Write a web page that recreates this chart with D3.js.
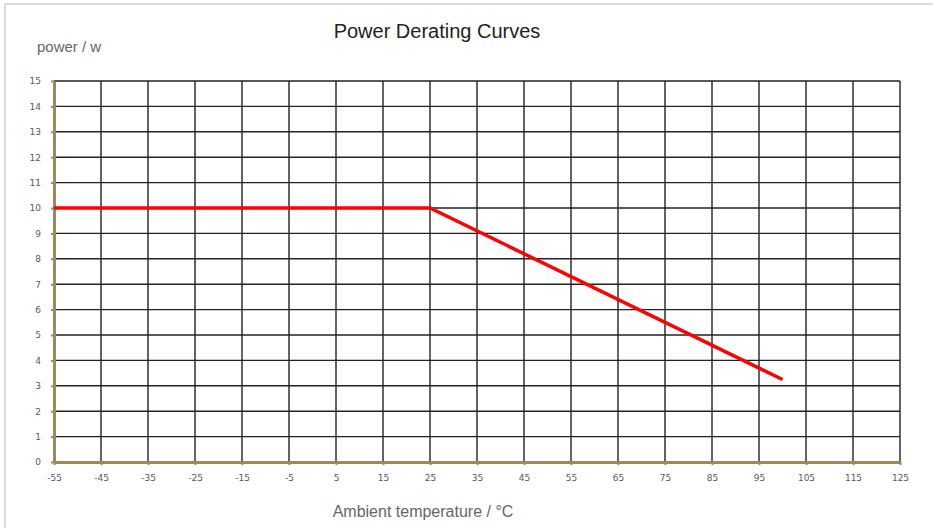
<!DOCTYPE html>
<html>
<head>
<meta charset="utf-8">
<script src="https://cdn.jsdelivr.net/npm/d3@7"></script>
<style>
  body { margin: 0; background: #fff; }
  svg { display: block; }
</style>
</head>
<body>
<div id="graphic"></div>
<script>
// derating curve: temperature (°C) vs power (W)
var temps = [-55, 25, 100];
var power = [10, 10, 3.25];
var xTicks = d3.range(-55, 126, 10);
var yTicks = d3.range(0, 16, 1);

var width = 933, height = 528;
var margin = {left: 54, right: 33, top: 81, bottom: 66};

var svg = d3.select("#graphic").append("svg")
  .attr("width", width).attr("height", height);

// outer frame
svg.append("rect")
  .attr("x", 5).attr("y", 4)
  .attr("width", width + 10).attr("height", height + 10)
  .attr("fill", "#fff").attr("stroke", "#d9d9d9").attr("stroke-width", 2);

var x = d3.scaleLinear().domain([-55, 125]).range([margin.left, width - margin.right]);
var y = d3.scaleLinear().domain([0, 15]).range([height - margin.bottom, margin.top]);

// grid
var grid = svg.append("g").attr("stroke", "#222").attr("stroke-width", 1.4);
grid.selectAll("line.v").data(xTicks.slice(1)).enter().append("line")
  .attr("x1", d => x(d)).attr("x2", d => x(d))
  .attr("y1", y(0)).attr("y2", y(15));
grid.selectAll("line.h").data(yTicks.slice(1)).enter().append("line")
  .attr("x1", x(-55)).attr("x2", x(125))
  .attr("y1", d => y(d)).attr("y2", d => y(d));

var axisColor = "#988c5c";
var fmt = d => String(d);

var xAxis = svg.append("g")
  .attr("transform", "translate(0," + y(0) + ")")
  .call(d3.axisBottom(x).tickValues(xTicks).tickFormat(fmt).tickSize(3).tickPadding(10).tickSizeOuter(0));
var yAxis = svg.append("g")
  .attr("transform", "translate(" + x(-55) + ",0)")
  .call(d3.axisLeft(y).tickValues(yTicks).tickFormat(fmt).tickSize(3).tickPadding(10).tickSizeOuter(0));

[xAxis, yAxis].forEach(function(a) {
  a.select(".domain").attr("stroke", axisColor).attr("stroke-width", 3);
  a.selectAll(".tick line").attr("stroke", axisColor).attr("stroke-width", 2);
  a.selectAll("text")
    .attr("fill", "#595959")
    .style("font-family", "DejaVu Sans, Verdana, sans-serif")
    .style("font-size", "9px");
});

// curve
var line = d3.line().x(d => x(d[0])).y(d => y(d[1]));
svg.append("path")
  .datum(temps.map((t, i) => [t, power[i]]))
  .attr("d", line)
  .attr("fill", "none")
  .attr("stroke", "#ff0000")
  .attr("stroke-width", 3.5);

// texts
svg.append("text")
  .attr("x", 437).attr("y", 38)
  .attr("text-anchor", "middle")
  .attr("fill", "#222")
  .style("font-family", "Liberation Sans, Arial, sans-serif")
  .style("font-size", "20px")
  .text("Power Derating Curves");

svg.append("text")
  .attr("x", 37).attr("y", 52)
  .attr("fill", "#666")
  .style("font-family", "Liberation Sans, Arial, sans-serif")
  .style("font-size", "15px")
  .text("power / w");

svg.append("text")
  .attr("x", 423).attr("y", 517)
  .attr("text-anchor", "middle")
  .attr("fill", "#666")
  .style("font-family", "Liberation Sans, Arial, sans-serif")
  .style("font-size", "16px")
  .text("Ambient temperature / °C");
</script>
</body>
</html>
